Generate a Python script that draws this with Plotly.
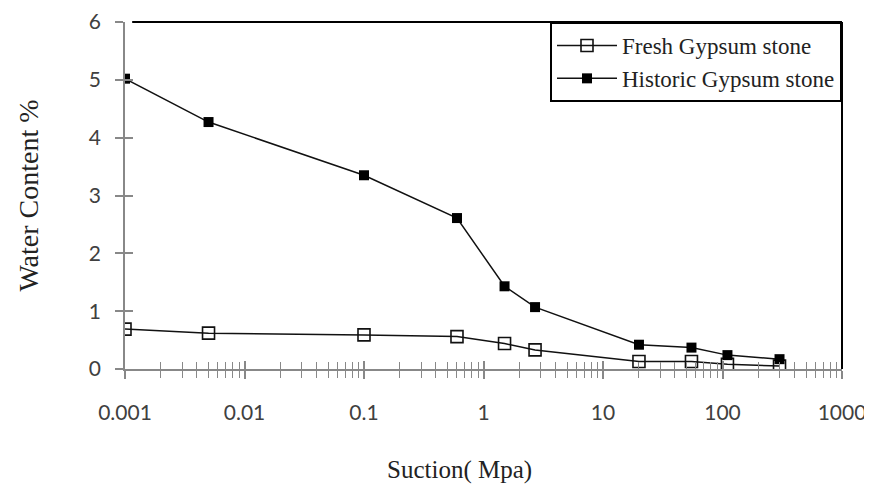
import plotly.graph_objects as go

# suction (MPa) and water content (%)
suction = [0.001, 0.005, 0.1, 0.6, 1.5, 2.7, 20, 55, 110, 300]
fresh = [0.69, 0.62, 0.59, 0.56, 0.44, 0.33, 0.13, 0.13, 0.08, 0.05]
historic = [5.02, 4.27, 3.35, 2.61, 1.43, 1.07, 0.42, 0.37, 0.24, 0.17]

decades = [0.001, 0.01, 0.1, 1, 10, 100, 1000]
decade_labels = ['0.001', '0.01', '0.1', '1', '10', '100', '1000']

fig = go.Figure()

fig.add_trace(go.Scatter(
    x=suction, y=fresh, mode='lines+markers', name='Fresh Gypsum stone',
    line=dict(color='#111', width=1.5),
    marker=dict(symbol='square-open', size=12, color='#111', line=dict(width=1.6))))
fig.add_trace(go.Scatter(
    x=suction, y=historic, mode='lines+markers', name='Historic Gypsum stone',
    line=dict(color='#111', width=1.5),
    marker=dict(symbol='square', size=10, color='#000')))

# dummy trace so the overlaid axes (inside ticks) get drawn -> crossing ticks
fig.add_trace(go.Scatter(x=[0.001], y=[0], xaxis='x2', yaxis='y2', mode='markers',
                         marker=dict(opacity=0), showlegend=False, hoverinfo='skip'))

tickfont = dict(family='Lato', size=21, color='#404040')

# page body has an 8px margin, so the figure is a little smaller than the window
fig.update_layout(
    width=864, height=479,
    margin=dict(l=117, r=30, t=14, b=118),
    plot_bgcolor='white', paper_bgcolor='white',
    showlegend=True,
    legend=dict(x=1, xanchor='right', y=1, yanchor='top',
                bgcolor='white', bordercolor='black', borderwidth=2,
                font=dict(family='Liberation Serif', size=23, color='#222'),
                itemwidth=60),
    xaxis=dict(type='log', range=[-3, 3], showgrid=False, zeroline=False, automargin=False,
               showline=True, linecolor='#888', linewidth=1.5,
               tickvals=decades, ticktext=decade_labels,
               ticks='outside', ticklen=8, tickcolor='#888', tickwidth=1.5,
               minor=dict(ticks='outside', ticklen=7, tickcolor='#888', tickwidth=1.2, dtick='D1'),
               tickfont=tickfont, ticklabelstandoff=16, ticklabeloverflow='allow'),
    yaxis=dict(range=[0, 6], dtick=1, showgrid=False, zeroline=False, automargin=False,
               showline=True, linecolor='#888', linewidth=1.5,
               ticks='outside', ticklen=8, tickcolor='#888', tickwidth=1.5,
               tickfont=tickfont, ticklabelstandoff=10, ticklabeloverflow='allow',
               title=dict(text='Water Content %', standoff=42,
                          font=dict(family='Liberation Serif', size=28, color='#222'))),
    xaxis2=dict(type='log', range=[-3, 3], overlaying='x', showgrid=False, zeroline=False,
                automargin=False, tickvals=decades,
                ticks='inside', ticklen=8, tickcolor='#888', tickwidth=1.5,
                minor=dict(ticks='inside', ticklen=7, tickcolor='#888', tickwidth=1.2, dtick='D1'),
                showticklabels=False, side='bottom'),
    yaxis2=dict(range=[0, 6], dtick=1, overlaying='y', showgrid=False, zeroline=False,
                automargin=False, ticks='inside', ticklen=8, tickcolor='#888', tickwidth=1.5,
                showticklabels=False, side='left'),
    shapes=[
        dict(type='line', xref='paper', yref='paper', x0=0.01, x1=1, y0=1, y1=1,
             line=dict(color='black', width=2)),
        dict(type='line', xref='paper', yref='paper', x0=1, x1=1, y0=0, y1=1,
             line=dict(color='black', width=2)),
    ],
    annotations=[
        dict(text='Suction( Mpa)', xref='paper', yref='paper', x=0.466, y=-0.29,
             xanchor='center', yanchor='middle', showarrow=False,
             font=dict(family='Liberation Serif', size=25, color='#222')),
    ],
)

fig.write_html("out.html")
